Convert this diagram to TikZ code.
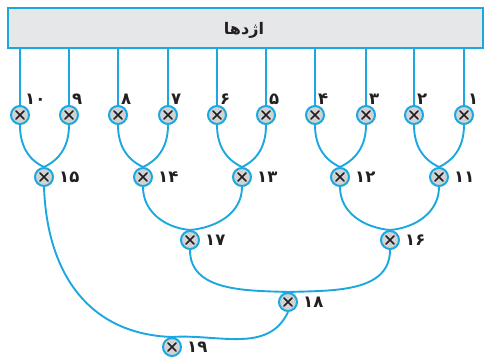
\documentclass[tikz,border=0pt]{standalone}
\usepackage{fontspec}
\newfontfamily\arabicfont[Script=Arabic]{DejaVu Sans}
\TeXXeTstate=1
\definecolor{cy}{HTML}{1BA8E0}
\definecolor{boxg}{HTML}{E6E7E8}
\definecolor{cg}{HTML}{D1D2D4}
\definecolor{ink}{HTML}{231F20}
\tikzset{
  wire/.style={cy, line width=1.9pt},
  gate/.style={circle, draw=cy, fill=cg, line width=2pt, minimum size=18pt, inner sep=0pt,
    path picture={
      \draw[ink, line width=1.7pt, line cap=round]
        ([shift={(-4pt,4pt)}]path picture bounding box.center) -- ([shift={(4pt,-4pt)}]path picture bounding box.center)
        ([shift={(4pt,4pt)}]path picture bounding box.center) -- ([shift={(-4pt,-4pt)}]path picture bounding box.center);
    }},
  num/.style={font=\arabicfont\bfseries\fontsize{16.5}{16.5}\selectfont, inner sep=0pt, text=ink},
  titlebox/.style={draw=cy, fill=boxg, line width=1.6pt, minimum width=475pt, minimum height=40pt, inner sep=0pt},
  titletext/.style={font=\arabicfont\bfseries\fontsize{16}{16}\selectfont, text=ink, inner sep=0pt},
}
\begin{document}
\begin{tikzpicture}[x=1pt,y=-1pt]
\useasboundingbox (0,0) rectangle (488,358);
\node[titlebox] (box) at (245.5,28) {};
\node[titletext] (tt) at ([xshift=-1.5pt,yshift=-2.5pt]box.center) {\beginR اژدها\endR};
% level 1
\node[gate] (n1) at (464,115) {};
\node[gate] (n2) at (414,115) {};
\node[gate] (n3) at (366,115) {};
\node[gate] (n4) at (315,115) {};
\node[gate] (n5) at (266,115) {};
\node[gate] (n6) at (217,115) {};
\node[gate] (n7) at (168,115) {};
\node[gate] (n8) at (118,115) {};
\node[gate] (n9) at (69,115) {};
\node[gate] (n10) at (20,115) {};
% level 2
\node[gate] (n11) at (439,177) {};
\node[gate] (n12) at (340,177) {};
\node[gate] (n13) at (242,177) {};
\node[gate] (n14) at (143,177) {};
\node[gate] (n15) at (44,177) {};
% level 3
\node[gate] (n16) at (390,240) {};
\node[gate] (n17) at (190,240) {};
% level 4
\node[gate] (n18) at (288,302) {};
\node[gate] (n19) at (172,347) {};
% top labels
\node[num, anchor=south west] (l1) at ([xshift=4pt,yshift=10pt]n1.center) {۱};
\node[num, anchor=south west] (l2) at ([xshift=3pt,yshift=10pt]n2.center) {۲};
\node[num, anchor=south west] (l3) at ([xshift=3pt,yshift=10pt]n3.center) {۳};
\node[num, anchor=south west] (l4) at ([xshift=3pt,yshift=10pt]n4.center) {۴};
\node[num, anchor=south west] (l5) at ([xshift=3pt,yshift=10pt]n5.center) {۵};
\node[num, anchor=south west] (l6) at ([xshift=3pt,yshift=10pt]n6.center) {۶};
\node[num, anchor=south west] (l7) at ([xshift=3pt,yshift=10pt]n7.center) {۷};
\node[num, anchor=south west] (l8) at ([xshift=3pt,yshift=10pt]n8.center) {۸};
\node[num, anchor=south west] (l9) at ([xshift=3pt,yshift=10pt]n9.center) {۹};
\node[num, anchor=south west] (l10) at ([xshift=5pt,yshift=10pt]n10.center) {۱۰};
% side labels
\node[num, anchor=west] (l11) at ([xshift=15pt]n11.center) {۱۱};
\node[num, anchor=west] (l12) at ([xshift=15pt]n12.center) {۱۲};
\node[num, anchor=west] (l13) at ([xshift=15pt]n13.center) {۱۳};
\node[num, anchor=west] (l14) at ([xshift=15pt]n14.center) {۱۴};
\node[num, anchor=west] (l15) at ([xshift=15pt]n15.center) {۱۵};
\node[num, anchor=west] (l16) at ([xshift=15pt]n16.center) {۱۶};
\node[num, anchor=west] (l17) at ([xshift=15pt]n17.center) {۱۷};
\node[num, anchor=west] (l18) at ([xshift=15pt]n18.center) {۱۸};
\node[num, anchor=west] (l19) at ([xshift=15pt]n19.center) {۱۹};
% vertical wires
\foreach \i in {1,...,10} {\draw[wire] (n\i |- box.south) -- (n\i.north);}
% merges
\draw[wire] (n10.south) to[out=-90,in=155] (n15.north);
\draw[wire] (n9.south) to[out=-90,in=25] (n15.north);
\draw[wire] (n8.south) to[out=-90,in=155] (n14.north);
\draw[wire] (n7.south) to[out=-90,in=25] (n14.north);
\draw[wire] (n6.south) to[out=-90,in=155] (n13.north);
\draw[wire] (n5.south) to[out=-90,in=25] (n13.north);
\draw[wire] (n4.south) to[out=-90,in=155] (n12.north);
\draw[wire] (n3.south) to[out=-90,in=25] (n12.north);
\draw[wire] (n2.south) to[out=-90,in=155] (n11.north);
\draw[wire] (n1.south) to[out=-90,in=25] (n11.north);
\draw[wire] (n14.south) to[out=-90,in=175] (n17.north);
\draw[wire] (n13.south) to[out=-90,in=5] (n17.north);
\draw[wire] (n12.south) to[out=-90,in=175] (n16.north);
\draw[wire] (n11.south) to[out=-90,in=5] (n16.north);
\draw[wire] (n17.south) to[out=-90,in=178] (n18.north);
\draw[wire] (n16.south) to[out=-90,in=2] (n18.north);
\draw[wire] (n15.south) to[out=-88,in=178,looseness=1.1] (n19.north);
\draw[wire] (n18.south) to[out=-115,in=4] (n19.north);
\end{tikzpicture}
\end{document}
